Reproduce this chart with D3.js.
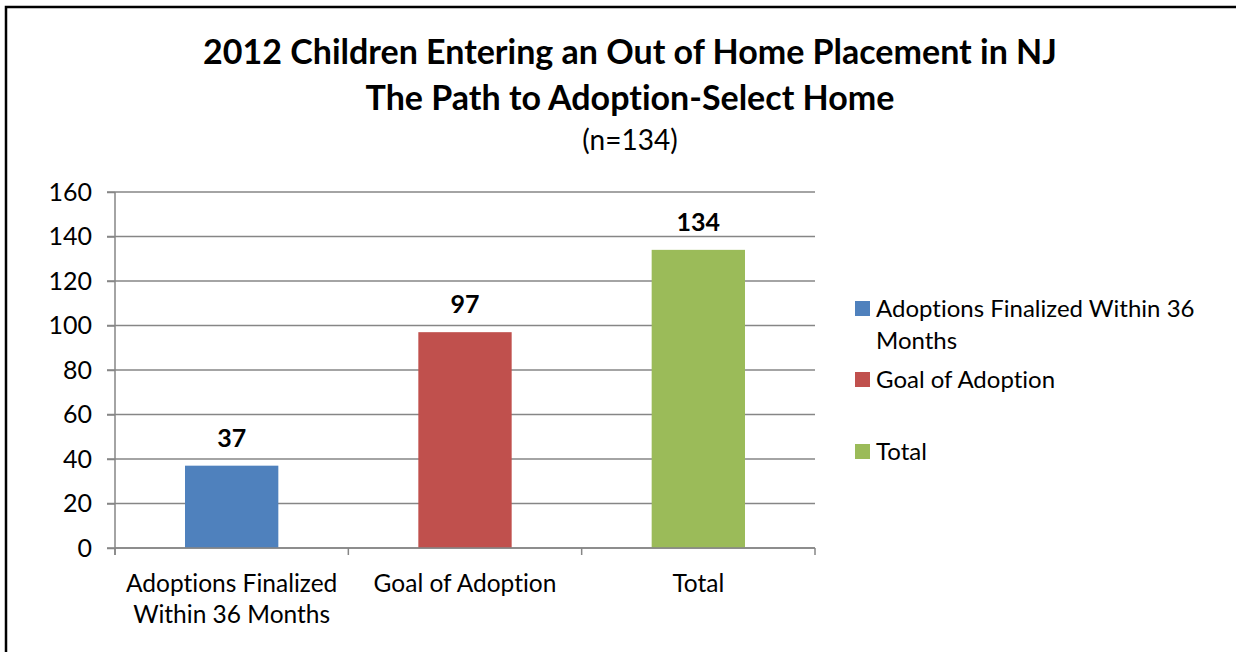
<!DOCTYPE html>
<html>
<head>
<meta charset="utf-8">
<script src="https://cdn.jsdelivr.net/npm/d3@7"></script>
<style>
  html, body { margin: 0; padding: 0; background: #fff; }
  svg { display: block; font-family: Lato, "Open Sans", sans-serif; font-variant-ligatures: none; font-feature-settings: "liga" 0, "clig" 0; }
</style>
</head>
<body>
<svg id="chart" width="1236" height="652"></svg>
<script>
// Chart data
const categories = ["Adoptions Finalized Within 36 Months", "Goal of Adoption", "Total"];
const axisLabels = [["Adoptions Finalized", "Within 36 Months"], ["Goal of Adoption"], ["Total"]];
const legendLabels = [["Adoptions Finalized Within 36", "Months"], ["Goal of Adoption"], ["Total"]];
const values = [37, 97, 134];
const colors = ["#4F81BD", "#C0504D", "#9BBB59"];
const yTicks = [0, 20, 40, 60, 80, 100, 120, 140, 160];
const titleLines = ["2012 Children Entering an Out of Home Placement in NJ", "The Path to Adoption-Select Home"];
const subtitle = "(n=134)";

const svg = d3.select("#chart");
const W = 1236, H = 652;

// Outer frame (left and top edges visible)
svg.append("path")
  .attr("d", `M6,${H + 2} L6,7 L${W + 2},7`)
  .attr("fill", "none")
  .attr("stroke", "#000")
  .attr("stroke-width", 2.5);

// Title
const title = svg.append("g").attr("text-anchor", "middle").attr("fill", "#000");
title.selectAll("text.t").data(titleLines).join("text")
  .attr("class", "t")
  .attr("x", 630)
  .attr("y", (d, i) => 64 + i * 46)
  .attr("font-size", 34)
  .attr("font-weight", "bold")
  .text(d => d);
title.append("text")
  .attr("x", 630).attr("y", 150)
  .attr("font-size", 28)
  .text(subtitle);

// Scales
const plot = { left: 115, right: 815, top: 192, bottom: 548 };
const x = d3.scaleBand().domain(categories).range([plot.left, plot.right]).paddingInner(0.6).paddingOuter(0.3);
const y = d3.scaleLinear().domain([0, 160]).range([plot.bottom, plot.top]);

// Gridlines
const grid = "#868686";
svg.append("g").selectAll("line").data(yTicks).join("line")
  .attr("x1", plot.left - 8).attr("x2", plot.right)
  .attr("y1", d => y(d)).attr("y2", d => y(d))
  .attr("stroke", grid).attr("stroke-width", 1.5);

// Y axis
const yAxis = svg.append("g").attr("transform", `translate(${plot.left},0)`)
  .call(d3.axisLeft(y).tickValues(yTicks).tickSize(8).tickPadding(15));
yAxis.select(".domain").attr("stroke", grid).attr("stroke-width", 1.5).attr("d", `M0,${plot.top}V${plot.bottom + 7}`);
yAxis.selectAll(".tick line").attr("stroke", grid).attr("stroke-width", 1.5);
yAxis.selectAll(".tick text").attr("font-size", 25).attr("fill", "#000").attr("font-family", "Lato, sans-serif");

// Bars
svg.append("g").selectAll("rect").data(values).join("rect")
  .attr("x", (d, i) => x(categories[i]))
  .attr("width", x.bandwidth())
  .attr("y", d => y(d))
  .attr("height", d => y(0) - y(d))
  .attr("fill", (d, i) => colors[i]);

// X axis line and category boundary ticks
const bandStep = (plot.right - plot.left) / categories.length;
svg.append("line")
  .attr("x1", plot.left).attr("x2", plot.right)
  .attr("y1", y(0)).attr("y2", y(0))
  .attr("stroke", grid).attr("stroke-width", 1.5);
svg.append("g").selectAll("line").data(d3.range(categories.length + 1)).join("line")
  .attr("x1", i => plot.left + i * bandStep).attr("x2", i => plot.left + i * bandStep)
  .attr("y1", y(0)).attr("y2", y(0) + 7)
  .attr("stroke", grid).attr("stroke-width", 1.5);

// Category labels
const catG = svg.append("g").attr("text-anchor", "middle").attr("font-size", 24.5).attr("fill", "#000");
axisLabels.forEach((lines, i) => {
  const cx = x(categories[i]) + x.bandwidth() / 2;
  lines.forEach((line, j) => {
    catG.append("text").attr("x", cx).attr("y", 592 + j * 31).text(line);
  });
});

// Value labels
svg.append("g").selectAll("text").data(values).join("text")
  .attr("x", (d, i) => x(categories[i]) + x.bandwidth() / 2)
  .attr("y", d => y(d) - 19)
  .attr("text-anchor", "middle")
  .attr("font-size", 25)
  .attr("font-weight", "bold")
  .attr("fill", "#000")
  .text(d => d);

// Legend
const legendY = [308, 379, 451];
const legend = svg.append("g").attr("font-size", 24).attr("fill", "#000");
legendLabels.forEach((lines, i) => {
  legend.append("rect")
    .attr("x", 855).attr("y", legendY[i] - 7).attr("width", 15).attr("height", 15)
    .attr("fill", colors[i]);
  lines.forEach((line, j) => {
    legend.append("text").attr("x", 876).attr("y", legendY[i] + 9 + j * 32).text(line);
  });
});
</script>
</body>
</html>
